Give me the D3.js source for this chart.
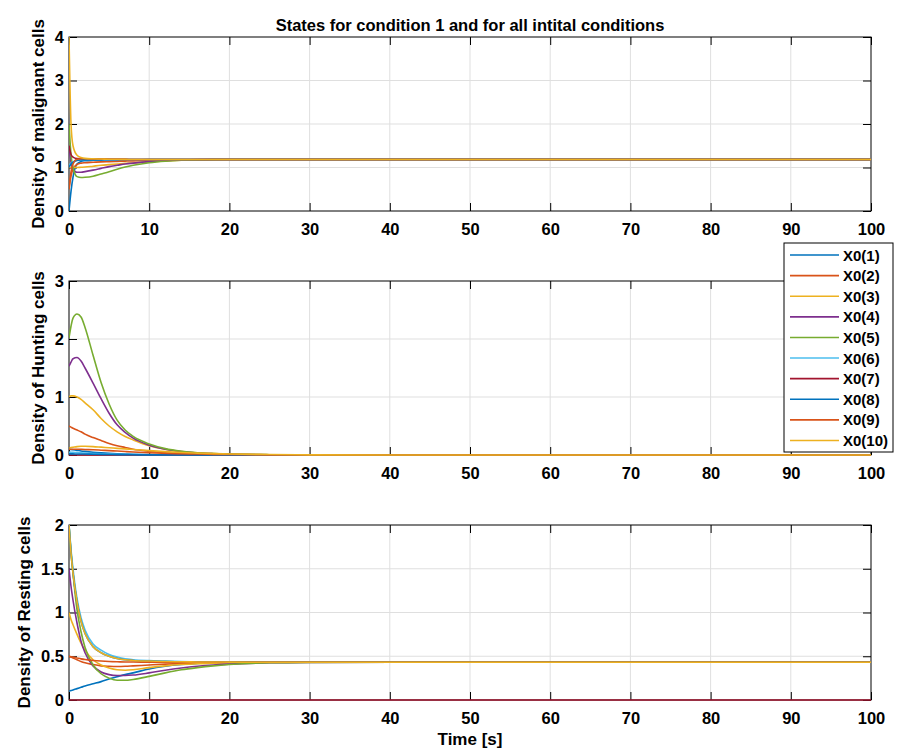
<!DOCTYPE html>
<html><head><meta charset="utf-8">
<script src="https://cdn.jsdelivr.net/npm/d3@7"></script>
<style>body{margin:0;background:#fff}svg{display:block}text{font-family:"Liberation Sans",Arial,sans-serif;font-weight:bold}</style>
</head><body>
<script>
// ---- data ----
const time = [0, 0.25, 0.5, 1, 1.5, 2, 3, 4, 5, 6, 7, 8, 10, 12, 14, 16, 18, 20, 25, 30, 50, 100];
const seriesNames = ["X0(1)","X0(2)","X0(3)","X0(4)","X0(5)","X0(6)","X0(7)","X0(8)","X0(9)","X0(10)"];
const xTicks = [0,10,20,30,40,50,60,70,80,90,100];
const malignantTicks = [0,1,2,3,4];
const huntingTicks = [0,1,2,3];
const restingTicks = [0,0.5,1,1.5,2];

const malignant = [
 [0,0.45,0.78,1.08,1.14,1.155,1.165,1.17,1.172,1.174,1.176,1.178,1.18,1.182,1.183,1.184,1.185,1.185,1.185,1.185,1.185,1.185],
 [0.5,0.8,0.97,1.07,1.1,1.11,1.12,1.13,1.135,1.14,1.147,1.152,1.162,1.17,1.176,1.18,1.183,1.185,1.185,1.185,1.185,1.185],
 [1.0,1.0,1.0,1.0,1.005,1.01,1.03,1.05,1.065,1.08,1.095,1.105,1.13,1.15,1.165,1.175,1.18,1.183,1.185,1.185,1.185,1.185],
 [1.5,1.12,0.97,0.89,0.89,0.905,0.94,0.98,1.02,1.05,1.08,1.1,1.135,1.158,1.172,1.179,1.183,1.185,1.185,1.185,1.185,1.185],
 [2.0,1.3,1.0,0.79,0.77,0.775,0.8,0.85,0.9,0.96,1.01,1.05,1.11,1.145,1.165,1.176,1.181,1.184,1.185,1.185,1.185,1.185],
 [1.05,1.1,1.13,1.17,1.18,1.185,1.185,1.185,1.185,1.185,1.185,1.185,1.185,1.185,1.185,1.185,1.185,1.185,1.185,1.185,1.185,1.185],
 [1.5,1.3,1.24,1.205,1.2,1.198,1.195,1.193,1.19,1.188,1.186,1.185,1.185,1.185,1.185,1.185,1.185,1.185,1.185,1.185,1.185,1.185],
 [1.0,1.08,1.12,1.16,1.175,1.18,1.185,1.185,1.185,1.185,1.185,1.185,1.185,1.185,1.185,1.185,1.185,1.185,1.185,1.185,1.185,1.185],
 [0.5,0.9,1.08,1.19,1.2,1.2,1.197,1.194,1.19,1.188,1.186,1.185,1.185,1.185,1.185,1.185,1.185,1.185,1.185,1.185,1.185,1.185],
 [4.0,2.0,1.5,1.28,1.23,1.21,1.2,1.195,1.19,1.188,1.186,1.185,1.185,1.185,1.185,1.185,1.185,1.185,1.185,1.185,1.185,1.185]
];
const hunting = [
 [0.1,0.095,0.09,0.08,0.07,0.062,0.048,0.037,0.028,0.021,0.016,0.012,0.007,0.004,0.002,0.001,0,0,0,0,0,0],
 [0.5,0.48,0.46,0.43,0.4,0.36,0.3,0.25,0.2,0.16,0.13,0.1,0.065,0.04,0.027,0.018,0.012,0.008,0.003,0.001,0,0],
 [1.0,1.02,1.02,1.0,0.96,0.9,0.78,0.63,0.5,0.4,0.32,0.26,0.16,0.1,0.06,0.037,0.023,0.015,0.004,0.001,0,0],
 [1.53,1.6,1.66,1.68,1.62,1.5,1.24,0.97,0.72,0.52,0.39,0.29,0.17,0.1,0.06,0.035,0.022,0.014,0.004,0.001,0,0],
 [2.02,2.22,2.36,2.43,2.38,2.2,1.72,1.25,0.88,0.6,0.43,0.32,0.19,0.11,0.065,0.04,0.025,0.016,0.005,0.001,0,0],
 [0.05,0.048,0.046,0.042,0.038,0.034,0.027,0.021,0.016,0.012,0.009,0.007,0.004,0.002,0.001,0,0,0,0,0,0,0],
 [0,0,0,0,0,0,0,0,0,0,0,0,0,0,0,0,0,0,0,0,0,0],
 [0.02,0.02,0.019,0.018,0.017,0.016,0.013,0.011,0.009,0.007,0.005,0.004,0.002,0.001,0,0,0,0,0,0,0,0],
 [0.1,0.1,0.1,0.1,0.098,0.095,0.09,0.083,0.075,0.068,0.06,0.053,0.04,0.03,0.022,0.016,0.011,0.008,0.003,0.001,0,0],
 [0.12,0.13,0.135,0.145,0.15,0.15,0.145,0.135,0.125,0.115,0.105,0.095,0.075,0.058,0.044,0.033,0.024,0.018,0.008,0.003,0,0]
];
const resting = [
 [0.1,0.108,0.115,0.13,0.145,0.16,0.185,0.21,0.24,0.265,0.29,0.31,0.355,0.385,0.405,0.418,0.425,0.429,0.432,0.432,0.432,0.432],
 [0.5,0.49,0.48,0.46,0.44,0.425,0.405,0.39,0.385,0.383,0.385,0.39,0.4,0.41,0.418,0.423,0.427,0.43,0.432,0.432,0.432,0.432],
 [1.0,0.92,0.86,0.75,0.65,0.57,0.46,0.4,0.365,0.345,0.34,0.345,0.37,0.39,0.405,0.415,0.42,0.425,0.43,0.432,0.432,0.432],
 [1.5,1.3,1.14,0.88,0.67,0.54,0.39,0.32,0.29,0.28,0.28,0.285,0.31,0.34,0.365,0.385,0.4,0.41,0.425,0.43,0.432,0.432],
 [2.0,1.7,1.45,1.03,0.78,0.6,0.4,0.3,0.25,0.225,0.225,0.235,0.27,0.31,0.345,0.37,0.39,0.405,0.425,0.43,0.432,0.432],
 [2.0,1.72,1.5,1.16,0.94,0.8,0.64,0.57,0.52,0.49,0.47,0.46,0.45,0.445,0.44,0.437,0.435,0.433,0.432,0.432,0.432,0.432],
 [0,0,0,0,0,0,0,0,0,0,0,0,0,0,0,0,0,0,0,0,0,0],
 [2.0,1.68,1.45,1.12,0.9,0.76,0.61,0.54,0.5,0.475,0.46,0.452,0.445,0.44,0.437,0.435,0.434,0.433,0.432,0.432,0.432,0.432],
 [0.5,0.495,0.49,0.48,0.47,0.462,0.452,0.445,0.44,0.437,0.435,0.434,0.433,0.432,0.432,0.432,0.432,0.432,0.432,0.432,0.432,0.432],
 [2.0,1.68,1.45,1.12,0.9,0.76,0.61,0.54,0.5,0.475,0.46,0.452,0.445,0.44,0.437,0.435,0.434,0.433,0.432,0.432,0.432,0.432]
];
const colors = ["#0072BD","#D95319","#EDB120","#7E2F8E","#77AC30","#4DBEEE","#A2142F","#0072BD","#D95319","#EDB120"];

// ---- layout ----
const W = 907, H = 753;
const tickFont = "16.5px", ylabelFont = "17px", titleFont = "16.5px", xlabelFont = "17px", legendFont = "15px";
const svg = d3.select("body").append("svg").attr("width", W).attr("height", H);
const left = 69, right = 871;
const x = d3.scaleLinear().domain([0,100]).range([left,right]);

const panels = [
 {data: malignant, ticks: malignantTicks, max: 4, top: 37, bottom: 211, label: "Density of malignant cells", lx: 44},
 {data: hunting, ticks: huntingTicks, max: 3, top: 281, bottom: 455, label: "Density of Hunting cells", lx: 44},
 {data: resting, ticks: restingTicks, max: 2, top: 525, bottom: 700, label: "Density of Resting cells", lx: 30}
];

panels.forEach((p, pi) => {
  const y = d3.scaleLinear().domain([0,p.max]).range([p.bottom,p.top]);
  const g = svg.append("g");
  // grid
  g.append("g").selectAll("line").data(xTicks.slice(1,-1)).join("line")
    .attr("x1", d=>x(d)).attr("x2", d=>x(d)).attr("y1", p.top).attr("y2", p.bottom)
    .attr("stroke", "#dfdfdf").attr("stroke-width", 1);
  g.append("g").selectAll("line").data(p.ticks.slice(1,-1)).join("line")
    .attr("x1", left).attr("x2", right).attr("y1", d=>y(d)).attr("y2", d=>y(d))
    .attr("stroke", "#dfdfdf").attr("stroke-width", 1);
  // axes (inward ticks on all sides)
  const tl = 8;
  const axB = d3.axisBottom(x).tickValues(xTicks).tickSizeInner(-tl).tickSizeOuter(0).tickPadding(12.3);
  const axT = d3.axisTop(x).tickValues(xTicks).tickSizeInner(-tl).tickSizeOuter(0).tickFormat("");
  const axL = d3.axisLeft(y).tickValues(p.ticks).tickSizeInner(-tl).tickSizeOuter(0).tickPadding(5).tickFormat(d3.format("~g"));
  const axR = d3.axisRight(y).tickValues(p.ticks).tickSizeInner(-tl).tickSizeOuter(0).tickFormat("");
  [[axB, `translate(0,${p.bottom})`],[axT, `translate(0,${p.top})`],[axL, `translate(${left},0)`],[axR, `translate(${right},0)`]]
   .forEach(([ax, tr]) => {
     const a = g.append("g").attr("transform", tr).call(ax);
     a.select(".domain").remove();
     a.selectAll("line").attr("stroke", "#000").attr("stroke-width", 1);
     a.selectAll("text").attr("fill","#000").style("font-size",tickFont).style("font-family","'Liberation Sans',Arial,sans-serif").style("font-weight","bold");
   });
  g.append("rect").attr("x", left).attr("y", p.top).attr("width", right-left).attr("height", p.bottom-p.top)
    .attr("fill","none").attr("stroke","#000").attr("stroke-width",1);
  // lines (drawn over the box, like the reference)
  const clipId = "clip" + pi;
  svg.append("clipPath").attr("id", clipId).append("rect")
    .attr("x", left).attr("y", p.top - 2).attr("width", right-left).attr("height", p.bottom - p.top + 4);
  const line = d3.line().x((d,i)=>x(time[i])).y(d=>y(d)).curve(d3.curveMonotoneX);
  g.append("g").attr("clip-path", `url(#${clipId})`).selectAll("path").data(p.data).join("path")
    .attr("d", d=>line(d)).attr("fill","none")
    .attr("stroke", (d,i)=>colors[i]).attr("stroke-width", 1.6);
  g.append("text").attr("transform", `translate(${p.lx},${(p.top+p.bottom)/2}) rotate(-90)`)
    .attr("text-anchor","middle").style("font-size",ylabelFont).text(p.label);
});

svg.append("text").attr("x", (left+right)/2).attr("y", 31).attr("text-anchor","middle")
  .style("font-size",titleFont).text("States for condition 1 and for all intital conditions");
svg.append("text").attr("x", (left+right)/2).attr("y", 745).attr("text-anchor","middle")
  .style("font-size",xlabelFont).text("Time [s]");

// legend
const lg = svg.append("g");
lg.append("rect").attr("x", 784).attr("y", 243).attr("width", 109).attr("height", 209)
  .attr("fill","#fff").attr("stroke","#000").attr("stroke-width",1);
const ly = d3.scalePoint().domain(seriesNames).range([255, 440.5]);
const items = lg.selectAll("g.item").data(seriesNames).join("g").attr("class","item");
items.append("line").attr("x1", 790).attr("x2", 839).attr("y1", d=>ly(d)).attr("y2", d=>ly(d))
  .attr("stroke", (d,i)=>colors[i]).attr("stroke-width", 1.6);
items.append("text").attr("x", 843).attr("y", d=>ly(d)+5.5).style("font-size",legendFont).text(d=>d);
</script>
</body></html>
